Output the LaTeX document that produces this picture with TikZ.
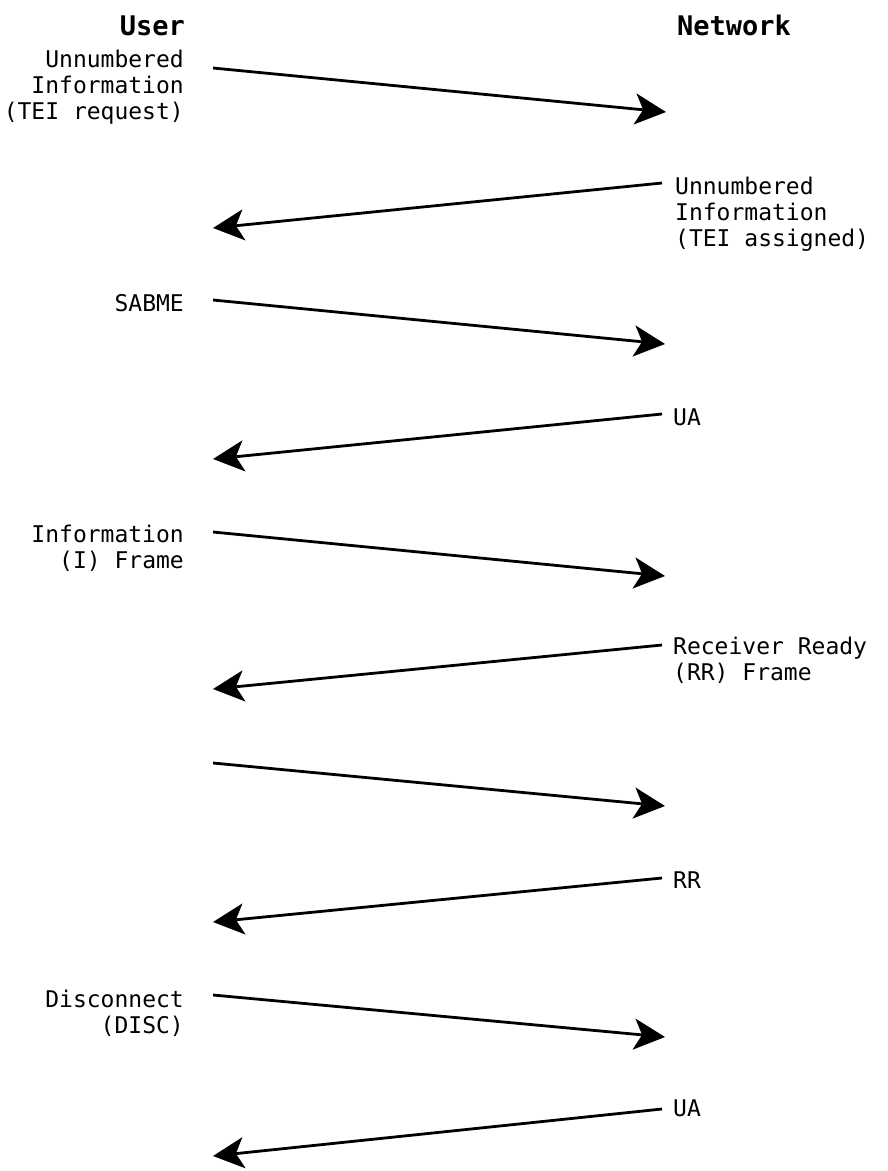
\documentclass[tikz,border=0pt]{standalone}
\usepackage{fontspec}
\setmonofont{DejaVu Sans Mono}
\usetikzlibrary{arrows.meta}
\begin{document}
\begin{tikzpicture}[x=1pt,y=-1pt,
  lbl/.style={font=\ttfamily\fontsize{23}{26}\selectfont, inner sep=0pt},
  % multi-line labels are placed by the baseline of their last line
  userlbl/.style={lbl, anchor=base east, align=right},
  netlbl/.style={lbl, anchor=base west, align=left},
  head/.style={font=\ttfamily\bfseries\fontsize{27}{30}\selectfont, inner sep=0pt},
  msg/.style={line width=2.8pt, -{Stealth[length=31pt,width=31pt,inset=8pt]}}]
\useasboundingbox (0,0) rectangle (888,1171);

% column headings
\node[head, anchor=base east] (huser) at (185,35) {User};
\node[head, anchor=base west] (hnet) at (677,35) {Network};

% message labels, user side
\node[userlbl] (l1) at (184,119) {Unnumbered\\Information\\(TEI request)};
\node[userlbl] (l3) at (184,311) {SABME};
\node[userlbl] (l5) at (184,568) {Information\\(I) Frame};
\node[userlbl] (l9) at (184,1033) {Disconnect\\(DISC)};

% message labels, network side
\node[netlbl] (r2) at (675,246) {Unnumbered\\Information\\(TEI assigned)};
\node[netlbl] (r4) at (673,425) {UA};
\node[netlbl] (r6) at (673,680) {Receiver Ready\\(RR) Frame};
\node[netlbl] (r8) at (673,888) {RR};
\node[netlbl] (r10) at (673,1116) {UA};

% connector end points
\coordinate (a1) at (213,68);   \coordinate (b1) at (666,112);
\coordinate (a2) at (662,183);  \coordinate (b2) at (213,228);
\coordinate (a3) at (213,300);  \coordinate (b3) at (665,344);
\coordinate (a4) at (662,414);  \coordinate (b4) at (213,459);
\coordinate (a5) at (213,532);  \coordinate (b5) at (665,576);
\coordinate (a6) at (662,645);  \coordinate (b6) at (213,689);
\coordinate (a7) at (213,763);  \coordinate (b7) at (665,806);
\coordinate (a8) at (662,878);  \coordinate (b8) at (213,922);
\coordinate (a9) at (213,995);  \coordinate (b9) at (665,1037);
\coordinate (a10) at (662,1109); \coordinate (b10) at (213,1156);

% messages
\foreach \i in {1,...,10} {\draw[msg] (a\i) -- (b\i);}
\end{tikzpicture}
\end{document}
